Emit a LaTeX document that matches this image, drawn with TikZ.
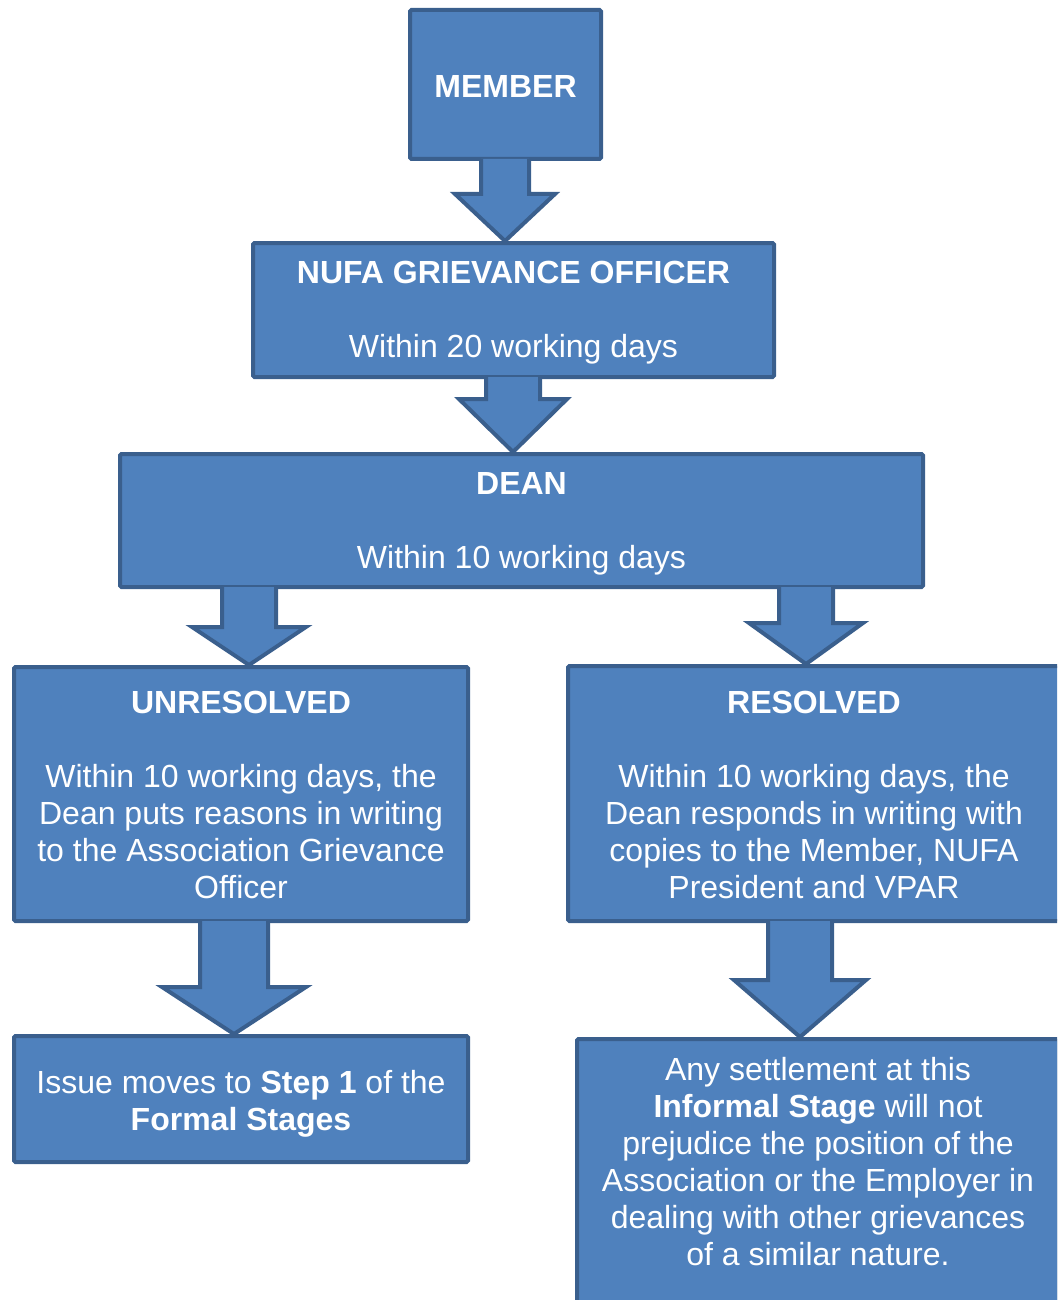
\documentclass[tikz,border=0pt]{standalone}
\usepackage{fontspec}
\setmainfont{Liberation Sans}
\usetikzlibrary{calc}
\definecolor{boxfill}{HTML}{4F81BD}
\definecolor{boxline}{HTML}{3A5F8D}
\newcommand{\toppad}[1]{\rule{0pt}{#1}}
\newcommand{\blockarr}[6]{%
  \fill[boxfill] let \p1=(#1.south), \p2=(#2.north) in
    ({#3pt-#4pt},{\y1+2pt}) -- ({#3pt-#4pt},{\y2+#6pt}) -- ({#3pt-#5pt},{\y2+#6pt})
    -- ({#3pt},{\y2}) -- ({#3pt+#5pt},{\y2+#6pt}) -- ({#3pt+#4pt},{\y2+#6pt})
    -- ({#3pt+#4pt},{\y1+2pt}) -- cycle;
  \draw[arrline] let \p1=(#1.south), \p2=(#2.north) in
    ({#3pt-#4pt},{\y1+2pt}) -- ({#3pt-#4pt},{\y2+#6pt}) -- ({#3pt-#5pt},{\y2+#6pt})
    -- ({#3pt},{\y2}) -- ({#3pt+#5pt},{\y2+#6pt}) -- ({#3pt+#4pt},{\y2+#6pt})
    -- ({#3pt+#4pt},{\y1+2pt});
}
\begin{document}
\begin{tikzpicture}[x=1pt,y=-1pt,
  box/.style={draw=boxline, fill=boxfill, line width=4pt, rounded corners=1.5pt,
    text=white, align=center, inner sep=0pt, font=\fontsize{32}{37}\selectfont},
  txt/.style={text=white, align=center, inner sep=0pt, font=\fontsize{32}{37}\selectfont},
  arrline/.style={draw=boxline, line width=4pt, line join=miter}]
\useasboundingbox (0,0) rectangle (1057,1300);
\clip (0,0) rectangle (1057,1300);

\node[box, minimum width=191pt, minimum height=149pt] (member) at (505.5,84.5) {\toppad{26pt}\textbf{MEMBER}};
\node[box, minimum width=521pt, minimum height=134pt] (nufa) at (513.5,310)
  {\toppad{28pt}\textbf{NUFA GRIEVANCE OFFICER}\\[37pt]Within 20 working days};
\node[box, minimum width=803pt, minimum height=133pt] (dean) at (521.5,520.5)
  {\toppad{28pt}\textbf{DEAN}\\[37pt]Within 10 working days};
\node[box, minimum width=454pt, minimum height=254pt] (unres) at (241,794)
  {\toppad{25pt}\textbf{UNRESOLVED}\\[37pt]Within 10 working days, the\\Dean puts reasons in writing\\to the Association Grievance\\Officer};
\node[box, minimum width=492pt, minimum height=255pt] (res) at (814,793.5)
  {\toppad{25pt}\textbf{RESOLVED}\\[37pt]Within 10 working days, the\\Dean responds in writing with\\copies to the Member, NUFA\\President and VPAR};
\node[box, minimum width=454pt, minimum height=126pt] (step) at (241,1099)
  {\toppad{33pt}Issue moves to \textbf{Step 1} of the\\\textbf{Formal Stages}};
\node[box, minimum width=482pt, minimum height=281pt] (settle) at (818,1179.5) {};
\node[txt] (settletext) at (818,1162)
  {Any settlement at this\\\textbf{Informal Stage} will not\\prejudice the position of the\\Association or the Employer in\\dealing with other grievances\\of a similar nature.};

\blockarr{member}{nufa}{505}{24}{50}{47}
\blockarr{nufa}{dean}{513}{27}{54}{53}
\blockarr{dean}{unres}{249}{27}{57}{38}
\blockarr{dean}{res}{806}{27}{57}{41}
\blockarr{unres}{step}{234}{34}{72}{47}
\blockarr{res}{settle}{800}{32}{66}{57}
\end{tikzpicture}
\end{document}
